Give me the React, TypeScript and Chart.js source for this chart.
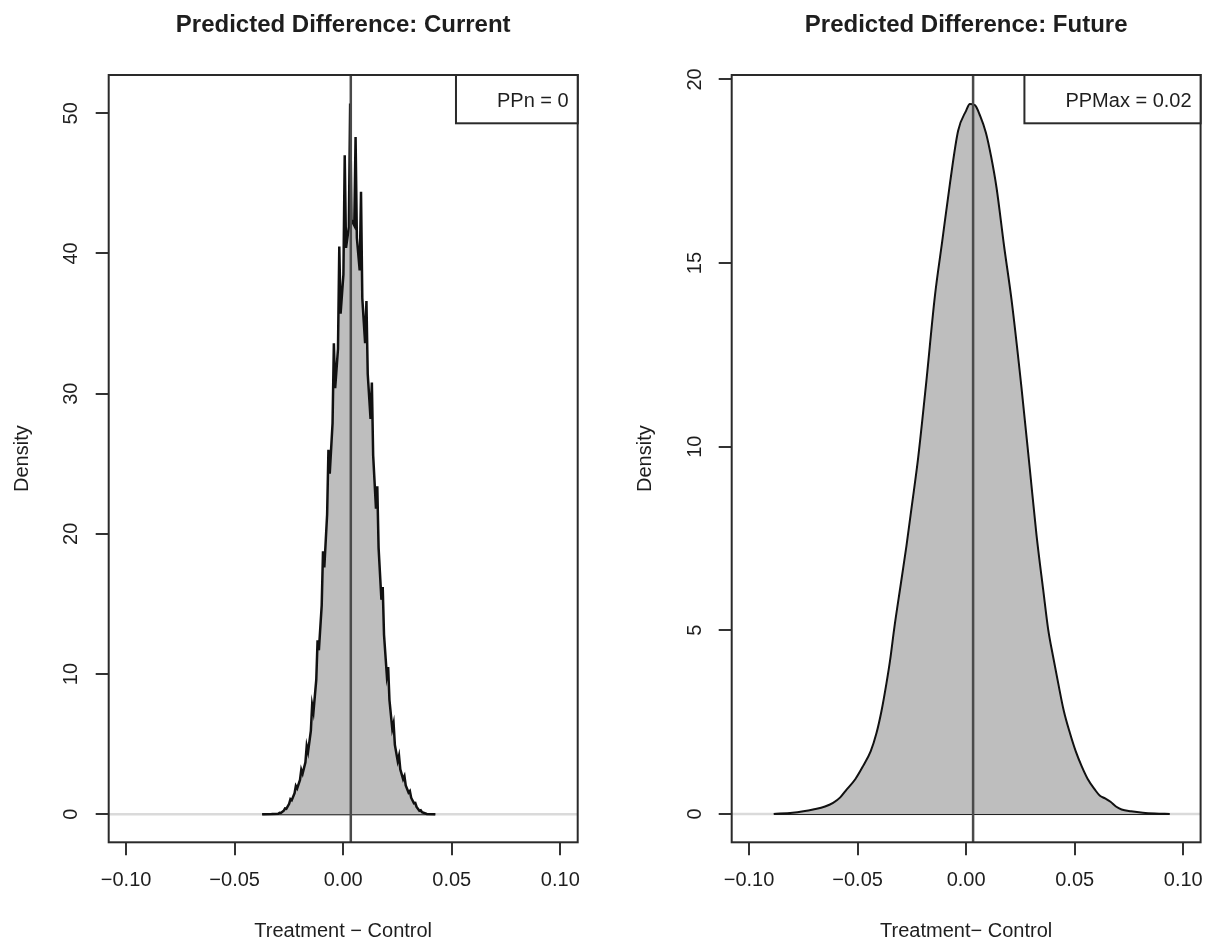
import React, { useEffect, useRef } from "react";
import { Chart, registerables } from "chart.js";

Chart.register(...registerables);

const FONT = "'Liberation Sans', Arial, Helvetica, sans-serif";

// ---- Data ----
const xTicks = [-0.1, -0.05, 0, 0.05, 0.1];
const currentYTicks = [0, 10, 20, 30, 40, 50];
const futureYTicks = [0, 5, 10, 15, 20];

const currentX = [
  -0.0373, -0.033, -0.0299, -0.0293, -0.0287, -0.0274, -0.0268, -0.0262, -0.0249, -0.0243, -0.0237,
  -0.0224, -0.0218, -0.0212, -0.0199, -0.0193, -0.0187, -0.0174, -0.0168, -0.0162, -0.0149, -0.0143,
  -0.0137, -0.0124, -0.0118, -0.0112, -0.0099, -0.0093, -0.0087, -0.0074, -0.0068, -0.0062, -0.0049,
  -0.0043, -0.0037, -0.0024, -0.0018, -0.0012, 0.0001, 0.0007, 0.0013, 0.0026, 0.0032, 0.0038, 0.0051,
  0.0057, 0.0063, 0.0076, 0.0082, 0.0088, 0.0101, 0.0107, 0.0113, 0.0126, 0.0132, 0.0138, 0.0151,
  0.0157, 0.0163, 0.0176, 0.0182, 0.0188, 0.0201, 0.0207, 0.0213, 0.0226, 0.0232, 0.0238, 0.0251,
  0.0257, 0.0263, 0.0276, 0.0282, 0.0288, 0.0301, 0.0307, 0.0313, 0.0326, 0.0332, 0.0338, 0.0351,
  0.0357, 0.0363, 0.0385, 0.0424,
];
const currentY = [
  0, 0.01, 0.04, 0.11, 0.09, 0.25, 0.41, 0.39, 0.75, 1.08, 1.0, 1.5, 2.02, 1.85, 2.45, 3.17, 2.9,
  3.7, 4.86, 4.45, 5.95, 7.81, 7.3, 9.6, 12.4, 11.7, 14.9, 18.75, 17.6, 21.4, 26.0, 24.3, 27.9,
  33.6, 30.4, 33.2, 40.5, 35.7, 38.5, 47.0, 40.4, 41.9, 50.7, 42.4, 42.0, 48.3, 41.1, 38.8,
  44.4, 36.8, 33.6, 36.6, 31.4, 28.2, 30.8, 25.6, 21.8, 23.4, 19.0, 15.3, 16.2, 12.8, 9.9, 10.5,
  8.15, 6.1, 6.5, 4.95, 3.8, 4.18, 3.2, 2.5, 2.72, 2.05, 1.55, 1.66, 1.18, 0.78, 0.8, 0.52, 0.25,
  0.28, 0.14, 0.02, 0,
];

const futureX = [
  -0.0886, -0.08, -0.075, -0.0705, -0.065, -0.0613, -0.058, -0.0551, -0.051, -0.0475, -0.044, -0.0413,
  -0.039, -0.0367, -0.035, -0.0332, -0.03, -0.0275, -0.025, -0.0221, -0.0183, -0.0144, -0.011, -0.0075,
  -0.0037, 0, 0.0017, 0.004, 0.0065, 0.0091, 0.0115, 0.014, 0.0175, 0.0209, 0.0255, 0.0294, 0.0324,
  0.0355, 0.0378, 0.04, 0.0424, 0.045, 0.0478, 0.0505, 0.0532, 0.056, 0.0593, 0.0615, 0.064, 0.0665,
  0.069, 0.0716, 0.076, 0.0814, 0.087, 0.0937,
];
const futureY = [
  0, 0.03, 0.07, 0.12, 0.2, 0.3, 0.45, 0.66, 0.95, 1.3, 1.7, 2.2, 2.8, 3.56, 4.2, 5.02, 6.3, 7.3, 8.4,
  9.7, 11.8, 14.1, 15.6, 17.15, 18.6, 19.15, 19.33, 19.3, 19.0, 18.55, 17.9, 17.05, 15.45, 14.0, 11.6,
  9.35, 7.6, 6.1, 5.02, 4.3, 3.56, 2.8, 2.2, 1.7, 1.3, 0.95, 0.66, 0.5, 0.42, 0.33, 0.2, 0.12, 0.07,
  0.03, 0.01, 0,
];

const meanCurrent = 0.0035;
const meanFuture = 0.0032;

// ---- Panel settings ----
type Panel = {
  W: number;
  H: number;
  left: number;
  right: number;
  top: number;
  bottom: number;
  xMin: number;
  xMax: number;
  yMin: number;
  yMax: number;
  yTicks: number[];
  xs: number[];
  ys: number[];
  mean: number;
  smooth: boolean;
  lineW: number;
  title: string;
  xTitle: string;
  legend: string;
  yLabelX: number;
  densityX: number;
};

const panels: Panel[] = [
  {
    W: 603, H: 942, left: 108.7, right: 577.7, top: 75, bottom: 842.3,
    xMin: -0.108, xMax: 0.108, yMin: -2.0, yMax: 52.73, yTicks: currentYTicks,
    xs: currentX, ys: currentY, mean: meanCurrent, smooth: false, lineW: 2.5,
    title: "Predicted Difference: Current", xTitle: "Treatment \u2212 Control", legend: "PPn = 0",
    yLabelX: 71.7, densityX: 22,
  },
  {
    W: 604, H: 942, left: 128.7, right: 597.6, top: 75, bottom: 842.3,
    xMin: -0.108, xMax: 0.108, yMin: -0.774, yMax: 20.12, yTicks: futureYTicks,
    xs: futureX, ys: futureY, mean: meanFuture, smooth: true, lineW: 2,
    title: "Predicted Difference: Future", xTitle: "Treatment\u2212 Control", legend: "PPMax = 0.02",
    yLabelX: 92, densityX: 42,
  },
];

const fmtX = (v: number) => {
  const s = Math.abs(v).toFixed(2);
  return v < -1e-9 ? "\u2212" + s : s;
};

function makeDecor(p: Panel) {
  return {
    id: "decor",
    afterDraw(chart: any) {
      const { ctx, chartArea: a } = chart;
      ctx.save();
      // box
      ctx.strokeStyle = "#2a2a2a";
      ctx.lineWidth = 2;
      ctx.strokeRect(a.left, a.top, a.right - a.left, a.bottom - a.top);

      ctx.fillStyle = "#1e1e1e";
      ctx.textAlign = "center";
      ctx.textBaseline = "middle";
      // title
      ctx.font = `bold 24px ${FONT}`;
      ctx.fillText(p.title, (a.left + a.right) / 2, 25);
      // x title
      ctx.font = `20px ${FONT}`;
      ctx.fillText(p.xTitle, (a.left + a.right) / 2, 931);

      // y tick labels (rotated)
      const ys = chart.scales.y;
      ys.ticks.forEach((t: any) => {
        const py = ys.getPixelForValue(t.value);
        ctx.save();
        ctx.translate(p.yLabelX, py);
        ctx.rotate(-Math.PI / 2);
        ctx.fillText(String(t.value), 0, 0);
        ctx.restore();
      });
      // y title
      ctx.save();
      ctx.translate(p.densityX, (a.top + a.bottom) / 2);
      ctx.rotate(-Math.PI / 2);
      ctx.fillText("Density", 0, 0);
      ctx.restore();

      // legend box (top right)
      const tw = ctx.measureText(p.legend).width;
      const bw = tw + 50;
      const bh = 48.3;
      ctx.fillStyle = "#ffffff";
      ctx.fillRect(a.right - bw, a.top, bw, bh);
      ctx.strokeStyle = "#2a2a2a";
      ctx.lineWidth = 2;
      ctx.strokeRect(a.right - bw, a.top, bw, bh);
      ctx.fillStyle = "#1e1e1e";
      ctx.textAlign = "right";
      ctx.fillText(p.legend, a.right - 9, a.top + 26.5);
      ctx.restore();
    },
  };
}

function buildConfig(p: Panel): any {
  const gridOpts = {
    display: true,
    drawOnChartArea: false,
    drawTicks: true,
    tickLength: 13,
    color: "#333333",
    lineWidth: 2,
  };
  return {
    type: "line",
    data: {
      datasets: [
        {
          data: [
            { x: p.mean, y: -100 },
            { x: p.mean, y: 100 },
          ],
          borderColor: "#4a4a4a",
          borderWidth: 2.5,
          pointRadius: 0,
          fill: false,
        },
        {
          data: p.xs.map((x, i) => ({ x, y: p.ys[i] })),
          borderColor: "#111111",
          borderWidth: p.lineW,
          backgroundColor: "#bebebe",
          fill: "origin",
          pointRadius: 0,
          tension: 0,
          cubicInterpolationMode: p.smooth ? "monotone" : "default",
        },
        {
          data: [
            { x: p.xs[0], y: 0 },
            { x: p.xs[p.xs.length - 1], y: 0 },
          ],
          borderColor: "#222222",
          borderWidth: 2,
          pointRadius: 0,
          fill: false,
        },
        {
          data: [
            { x: -1, y: 0 },
            { x: 1, y: 0 },
          ],
          borderColor: "#dadada",
          borderWidth: 2.5,
          pointRadius: 0,
          fill: false,
        },
      ],
    },
    options: {
      responsive: false,
      animation: false,
      events: [],
      layout: { padding: { left: 0, top: p.top, right: p.W - p.right, bottom: 0 } },
      plugins: {
        legend: { display: false },
        tooltip: { enabled: false },
        title: { display: false },
      },
      scales: {
        x: {
          type: "linear",
          min: p.xMin,
          max: p.xMax,
          afterBuildTicks: (s: any) => {
            s.ticks = xTicks.map((v) => ({ value: v }));
          },
          afterFit: (s: any) => {
            s.height = p.H - p.bottom;
          },
          grid: gridOpts,
          border: { display: false },
          ticks: {
            font: { size: 20, family: FONT, lineHeight: 2.54 },
            color: "#1e1e1e",
            padding: 0,
            maxRotation: 0,
            minRotation: 0,
            autoSkip: false,
            callback: (v: any) => fmtX(Number(v)),
          },
        },
        y: {
          type: "linear",
          min: p.yMin,
          max: p.yMax,
          afterBuildTicks: (s: any) => {
            s.ticks = p.yTicks.map((v) => ({ value: v }));
          },
          afterFit: (s: any) => {
            s.width = p.left;
          },
          grid: gridOpts,
          border: { display: false },
          ticks: { display: false },
        },
      },
    },
    plugins: [makeDecor(p)],
  };
}

function PanelChart({ p, offset }: { p: Panel; offset: number }) {
  const ref = useRef<HTMLCanvasElement | null>(null);
  useEffect(() => {
    if (!ref.current) return;
    const chart = new Chart(ref.current, buildConfig(p));
    return () => chart.destroy();
  }, [p]);
  return (
    <canvas
      ref={ref}
      width={p.W}
      height={p.H}
      style={{ position: "absolute", left: offset, top: 0, width: p.W, height: p.H, display: "block" }}
    />
  );
}

export default function App() {
  return (
    <div style={{ position: "absolute", left: 0, top: 0, width: 1207, height: 942, background: "#fff" }}>
      <PanelChart p={panels[0]} offset={0} />
      <PanelChart p={panels[1]} offset={603} />
    </div>
  );
}
